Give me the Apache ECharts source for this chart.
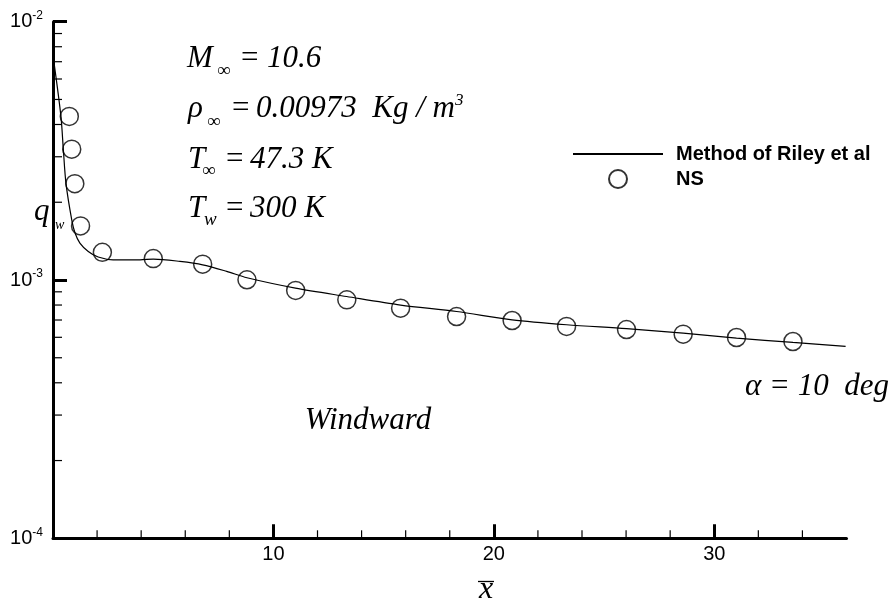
<!DOCTYPE html>
<html><head><meta charset="utf-8">
<script src="https://cdn.jsdelivr.net/npm/echarts@6/dist/echarts.min.js"></script>
<style>html,body{margin:0;padding:0;background:#fff}#c{width:893px;height:608px}</style>
</head><body><div id="c"></div>
<script>
// ---- data ----
const seriesNames = ['Method of Riley et al', 'NS'];
const rileyX = [0.05, 0.36, 0.47, 0.59, 0.85, 1.0, 1.22, 1.6, 2.05, 2.73, 3.95, 4.55, 5.76, 6.79, 7.88, 8.8, 11.0, 13.32, 15.77, 18.31, 20.83, 23.3, 26.02, 28.59, 31.01, 33.57, 35.96];
const rileyQ = [6.9e-3, 4.30e-3, 3.19e-3, 2.36e-3, 1.71e-3, 1.52e-3, 1.39e-3, 1.29e-3, 1.227e-3, 1.197e-3, 1.197e-3, 1.205e-3, 1.18e-3, 1.145e-3, 1.08e-3, 1.02e-3, 0.93e-3, 0.863e-3, 0.80e-3, 0.755e-3, 0.701e-3, 0.671e-3, 0.648e-3, 0.623e-3, 0.596e-3, 0.573e-3, 0.553e-3];
const nsX = [0.74, 0.85, 0.99, 1.25, 2.24, 4.55, 6.79, 8.80, 11.01, 13.33, 15.77, 18.31, 20.83, 23.30, 26.02, 28.59, 31.01, 33.57];
const nsQ = [4.30e-3, 3.21e-3, 2.36e-3, 1.62e-3, 1.28e-3, 1.21e-3, 1.152e-3, 1.002e-3, 0.911e-3, 0.838e-3, 0.778e-3, 0.722e-3, 0.697e-3, 0.661e-3, 0.643e-3, 0.617e-3, 0.599e-3, 0.578e-3];
const xTickValues = [10, 20, 30];
const xMinorTicks = [2, 4, 6, 8, 12, 14, 16, 18, 22, 24, 26, 28, 32, 34];
const yMinorTicks = [2e-4, 3e-4, 4e-4, 5e-4, 6e-4, 7e-4, 8e-4, 9e-4, 2e-3, 3e-3, 4e-3, 5e-3, 6e-3, 7e-3, 8e-3, 9e-3];
const xMin = 0, xMax = 36, yMin = 1e-4, yMax = 1e-2;

// ---- chart ----
const sans = '"Liberation Sans", Arial, sans-serif';
const serif = '"Liberation Serif", "Times New Roman", serif';
function txt(s, x, y, size, align, weight) {
  return {type: 'text', x: x, y: y, silent: true, z: 100,
    style: {text: s, font: (weight || 'italic') + ' ' + size + 'px ' + serif, fill: '#000',
      textAlign: align || 'left', textVerticalAlign: 'middle', align: align || 'left', verticalAlign: 'middle'}};
}
const chart = echarts.init(document.getElementById('c'), null, {renderer: 'canvas'});
const tickData = xMinorTicks.map(v => [v, yMin, 0]).concat(yMinorTicks.map(v => [xMin, v, 1]));

chart.setOption({
  animation: false,
  backgroundColor: '#fff',
  grid: {left: 53, right: 46.5, top: 21.7, bottom: 69.7},
  legend: {
    data: seriesNames, orient: 'vertical', left: 572, top: 144, padding: 0,
    itemWidth: 90, itemHeight: 18, itemGap: 5, selectedMode: false,
    textStyle: {fontFamily: sans, fontWeight: 'bold', fontSize: 20, color: '#000', lineHeight: 18, padding: [0, 0, 0, 8]}
  },
  xAxis: {
    type: 'value', min: xMin, max: xMax,
    axisLine: {lineStyle: {color: '#000', width: 3}},
    axisTick: {inside: true, length: 14, lineStyle: {color: '#000', width: 3}, customValues: xTickValues},
    axisLabel: {customValues: xTickValues, margin: 6, color: '#000', fontFamily: sans, fontSize: 20},
    splitLine: {show: false}
  },
  yAxis: {
    type: 'log', logBase: 10, min: yMin, max: yMax,
    axisLine: {lineStyle: {color: '#000', width: 3}},
    axisTick: {inside: true, length: 14, lineStyle: {color: '#000', width: 3}},
    axisLabel: {
      margin: 10, color: '#000',
      formatter: v => '{b|10}{s|' + Math.round(Math.log10(v)) + '}',
      rich: {b: {fontFamily: sans, fontSize: 20, color: '#000'},
             s: {fontFamily: sans, fontSize: 12, color: '#000', padding: [0, 0, 12, 0]}}
    },
    splitLine: {show: false}
  },
  series: [
    {name: seriesNames[0], type: 'line', data: rileyX.map((x, i) => [x, rileyQ[i]]),
     symbol: 'none', smooth: 0.3, lineStyle: {color: '#000', width: 1.2},
     itemStyle: {color: 'rgba(0,0,0,0)', borderWidth: 0, opacity: 0}, z: 3},
    {name: seriesNames[1], type: 'scatter', data: nsX.map((x, i) => [x, nsQ[i]]),
     symbol: 'circle', symbolSize: 18,
     itemStyle: {color: 'rgba(0,0,0,0)', borderColor: '#000', borderWidth: 1.5}, z: 4},
    {type: 'custom', data: tickData, encode: {x: 0, y: 1}, silent: true, clip: false, z: 5,
     renderItem: function (params, api) {
       const p = api.coord([api.value(0), api.value(1)]);
       const k = api.value(2);
       const shape = k === 0 ? {x1: p[0], y1: p[1], x2: p[0], y2: p[1] - 8}
                             : {x1: p[0], y1: p[1], x2: p[0] + 9, y2: p[1]};
       return {type: 'line', shape: shape, style: {stroke: '#000', lineWidth: 1.2}};
     }}
  ],
  graphic: [
    // parameter block
    txt('M', 187, 58.5, 31), txt('\u221E', 217, 71, 19, 'left', 'normal'), txt('=', 241, 58.5, 31, 'left', 'normal'), txt('10.6', 267, 58.5, 31),
    txt('\u03C1', 188, 109, 31), txt('\u221E', 207, 122, 19, 'left', 'normal'), txt('=', 232, 109, 31, 'left', 'normal'), txt('0.00973  Kg / m', 256, 109, 31), txt('3', 455, 101, 17),
    txt('T', 188, 160, 31), txt('\u221E', 202, 171, 19, 'left', 'normal'), txt('=', 226, 160, 31, 'left', 'normal'), txt('47.3 K', 250, 160, 31),
    txt('T', 188, 208.5, 31), txt('w', 204, 220, 19), txt('=', 226, 208.5, 31, 'left', 'normal'), txt('300 K', 250, 208.5, 31),
    // other annotations
    txt('\u03B1 = 10  deg', 745, 387, 31),
    txt('Windward', 368, 421, 31, 'center'),
    // axis titles
    txt('q', 34, 211.5, 31), txt('w', 55, 225.5, 14),
    txt('x', 486, 589.5, 32, 'center'),
    {type: 'line', silent: true, z: 100, shape: {x1: 478, y1: 581.5, x2: 494, y2: 581.5}, style: {stroke: '#000', lineWidth: 1.3}}
  ]
});
</script></body></html>
